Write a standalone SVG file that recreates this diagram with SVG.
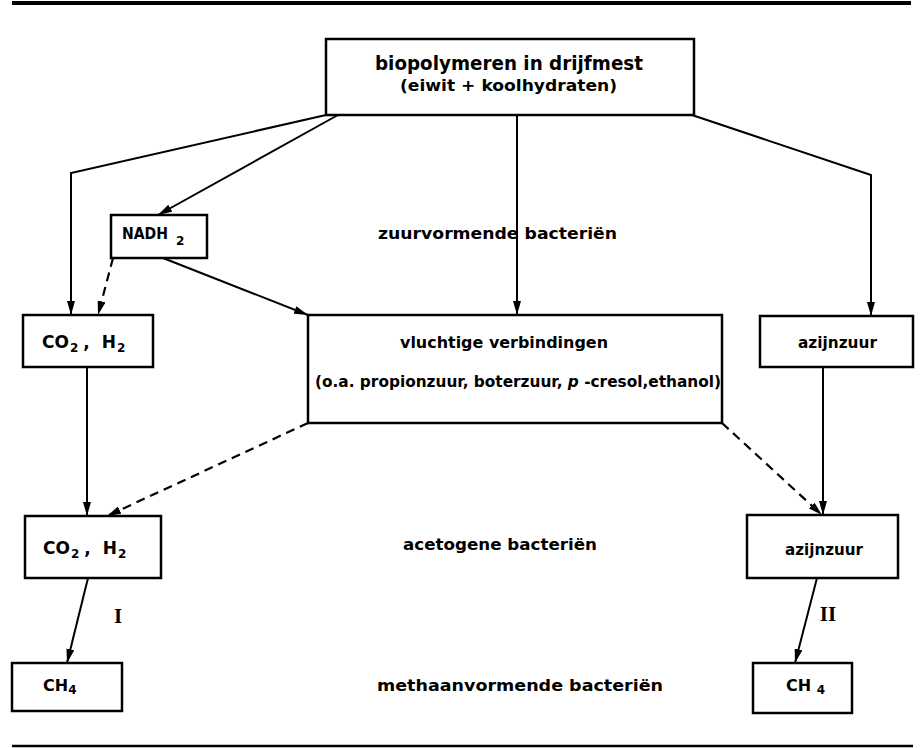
<svg xmlns="http://www.w3.org/2000/svg" width="920" height="748" viewBox="0 0 920 748">
<style>
.box{fill:#fff;stroke:#000;stroke-width:2.5}
.ln{fill:none;stroke:#000;stroke-width:2}
.ds{fill:none;stroke:#000;stroke-width:2.2;stroke-dasharray:9 6}
.rule{stroke:#000;fill:none}
text{font-family:"DejaVu Sans","Liberation Sans",sans-serif;font-weight:bold;fill:#000;font-size:15px}
.big{font-size:20px}
.mid{font-size:16px}
.lg{font-size:17px}
.sub{font-size:12px}
.rom{font-family:"Liberation Serif",serif;font-size:21px;font-weight:bold}
</style>
<defs>
<marker id="ah" viewBox="0 0 14 8" refX="14" refY="4" markerWidth="14" markerHeight="8" markerUnits="userSpaceOnUse" orient="auto">
<path d="M0,0 L14,4 L0,8 Z" fill="#000"/>
</marker>
</defs>
<line class="rule" x1="12" y1="3" x2="911" y2="3" stroke-width="4"/>
<line class="rule" x1="12" y1="746" x2="913" y2="746" stroke-width="2.5"/>
<g id="connectors">
<polyline class="ln" points="326,115 71,173 71,315" marker-end="url(#ah)"/>
<line class="ln" x1="338" y1="115" x2="158" y2="215" marker-end="url(#ah)"/>
<line class="ln" x1="517" y1="115" x2="517" y2="315" marker-end="url(#ah)"/>
<polyline class="ln" points="692,115 871,175 871,316" marker-end="url(#ah)"/>
<line class="ds" x1="113" y1="258" x2="98" y2="315" marker-end="url(#ah)"/>
<line class="ln" x1="163" y1="258" x2="308" y2="315" marker-end="url(#ah)"/>
<line class="ln" x1="87" y1="367" x2="87" y2="516" marker-end="url(#ah)"/>
<line class="ds" x1="308" y1="423" x2="107" y2="516" marker-end="url(#ah)"/>
<line class="ds" x1="722" y1="423" x2="822" y2="515" marker-end="url(#ah)"/>
<line class="ln" x1="823" y1="367" x2="823" y2="515" marker-end="url(#ah)"/>
<line class="ln" x1="88" y1="578" x2="67" y2="663" marker-end="url(#ah)"/>
<line class="ln" x1="817" y1="578" x2="795" y2="663" marker-end="url(#ah)"/>
</g>
<g id="top">
<rect class="box" x="326" y="39" width="368" height="76"/>
<text class="big" x="375" y="70" textLength="268" lengthAdjust="spacingAndGlyphs">biopolymeren in drijfmest</text>
<text class="mid" x="400" y="91" textLength="217" lengthAdjust="spacingAndGlyphs">(eiwit + koolhydraten)</text>
</g>
<g id="nadh">
<rect class="box" x="111" y="215" width="96" height="43"/>
<text x="122" y="239" textLength="46" lengthAdjust="spacingAndGlyphs">NADH</text>
<text class="sub" x="176" y="245">2</text>
</g>
<g id="label-zuur">
<text class="mid" x="378" y="239" textLength="239" lengthAdjust="spacingAndGlyphs">zuurvormende bacteriën</text>
</g>
<g id="co2-1">
<rect class="box" x="23" y="315" width="130" height="52"/>
<text class="lg" x="42" y="348">CO<tspan class="sub" dx="1" dy="4">2</tspan><tspan dx="5" dy="-4">,</tspan><tspan dx="12">H</tspan><tspan class="sub" dx="1" dy="4">2</tspan></text>
</g>
<g id="vluchtig">
<rect class="box" x="308" y="315" width="414" height="108"/>
<text x="400" y="348" textLength="208" lengthAdjust="spacingAndGlyphs">vluchtige verbindingen</text>
<text x="315" y="387" textLength="406" lengthAdjust="spacingAndGlyphs">(o.a. propionzuur, boterzuur, <tspan font-style="italic">p</tspan> -cresol,ethanol)</text>
</g>
<g id="azijn-1">
<rect class="box" x="760" y="316" width="153" height="51"/>
<text x="798" y="348" textLength="79" lengthAdjust="spacingAndGlyphs">azijnzuur</text>
</g>
<g id="co2-2">
<rect class="box" x="25" y="516" width="136" height="62"/>
<text class="lg" x="43" y="554">CO<tspan class="sub" dx="1" dy="4">2</tspan><tspan dx="5" dy="-4">,</tspan><tspan dx="12">H</tspan><tspan class="sub" dx="1" dy="4">2</tspan></text>
</g>
<g id="label-aceto">
<text x="403" y="550" textLength="194" lengthAdjust="spacingAndGlyphs">acetogene bacteriën</text>
</g>
<g id="azijn-2">
<rect class="box" x="747" y="515" width="151" height="63"/>
<text x="785" y="555" textLength="78" lengthAdjust="spacingAndGlyphs">azijnzuur</text>
</g>
<g id="roman">
<text class="rom" x="118" y="623" text-anchor="middle">I</text>
<text class="rom" x="828" y="621" text-anchor="middle">II</text>
</g>
<g id="ch4-1">
<rect class="box" x="12" y="663" width="110" height="48"/>
<text class="mid" x="43" y="691">CH<tspan class="sub" dy="3">4</tspan></text>
</g>
<g id="label-methaan">
<text x="377" y="691" textLength="286" lengthAdjust="spacingAndGlyphs">methaanvormende bacteriën</text>
</g>
<g id="ch4-2">
<rect class="box" x="753" y="663" width="99" height="50"/>
<text class="mid" x="786" y="691">CH <tspan class="sub" dy="3">4</tspan></text>
</g>
</svg>
